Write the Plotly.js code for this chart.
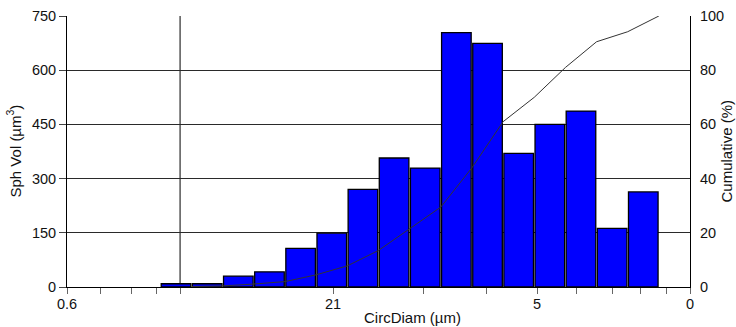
<!DOCTYPE html>
<html>
<head>
<meta charset="utf-8">
<script src="https://cdn.plot.ly/plotly-3.0.1.min.js"></script>
<style>html,body{margin:0;padding:0;background:#fff;}#chart{width:736px;height:327px;}</style>
</head>
<body>
<div id="chart"></div>
<script>
// bin index of each size class (left to right)
var bins = [0,1,2,3,4,5,6,7,8,9,10,11,12,13,14,15];
// spherical volume per bin (µm³)
var sphVol = [9,9,30,42,107,149,270,357,329,704,674,370,450,487,162,263];
// cumulative percentage at the upper edge of each bin
var cumulative = [0.2,0.4,1.1,2.0,4.5,7.8,13.5,21.5,29.5,44,61,70,81,90.5,94.2,100];
// x tick labels as printed
var xTickLabels = ['0.6','21','5','0'];
var xTickPos = [-3.5,5.04,11.59,16.5];
var xMinorPos = [-2.41,-1.44,-0.64,0.13,7.93,9.98,12.87,14.0,14.9,15.76];

var font = 'Liberation Sans, Arial, sans-serif';
var edges = bins.map(function(b){return b+0.5;});

var bars = {
  type:'bar', x:bins, y:sphVol,
  marker:{color:'#0000ff', line:{color:'#000', width:1.3}},
  width:0.95, hoverinfo:'skip'
};
var cum = {
  type:'scatter', mode:'lines', x:edges, y:cumulative, yaxis:'y2',
  line:{color:'#333', width:1}, hoverinfo:'skip'
};

var layout = {
  width:736, height:327,
  margin:{l:67, r:46, t:16, b:40},
  paper_bgcolor:'#fff', plot_bgcolor:'#fff',
  showlegend:false,
  font:{family:font, size:14.5, color:'#111'},
  xaxis:{
    range:[-3.5,16.5], tickmode:'array', tickvals:xTickPos, ticktext:xTickLabels,
    ticks:'outside', ticklen:6, tickcolor:'#666', tickwidth:1,
    ticklabelstandoff:-2,
    showgrid:false, zeroline:false, showline:true, linecolor:'#000', linewidth:1,
    tickfont:{size:14.5},
    minor:{tickmode:'array', tickvals:xMinorPos, ticks:'outside', ticklen:6, tickcolor:'#666', tickwidth:1, showgrid:false}
  },
  yaxis:{
    range:[0,750], tickmode:'linear', tick0:0, dtick:150,
    ticks:'outside', ticklen:7, tickcolor:'#444',
    showgrid:true, gridcolor:'#2a2a2a', gridwidth:1,
    zeroline:false, showline:true, linecolor:'#000', linewidth:1,
    tickfont:{size:14.5}
  },
  yaxis2:{
    overlaying:'y', side:'right', range:[0,100], tickmode:'linear', tick0:0, dtick:20,
    showgrid:false, zeroline:false, showline:true, linecolor:'#000', linewidth:1,
    ticks:'outside', ticklen:6, tickcolor:'rgba(0,0,0,0)', tickfont:{size:14.5}
  },
  shapes:[{type:'line', xref:'x', yref:'paper', x0:0.13, x1:0.13, y0:0, y1:1, line:{color:'#000', width:1}, layer:'below'}],
  annotations:[
    {text:'CircDiam (µm)', xref:'paper', yref:'paper', x:(412-67)/623, y:-30/271, xanchor:'center', yanchor:'middle', showarrow:false, font:{size:15}},
    {text:'Sph Vol (µm<sup>3</sup>)', xref:'paper', yref:'paper', x:-53/623, y:0.5, xanchor:'center', yanchor:'middle', textangle:-90, showarrow:false, font:{size:15}},
    {text:'Cumulative (%)', xref:'paper', yref:'paper', x:(726-67)/623, y:0.5, xanchor:'center', yanchor:'middle', textangle:-90, showarrow:false, font:{size:15}}
  ],
  bargap:0.05
};
Plotly.newPlot('chart',[bars,cum],layout,{staticPlot:true, displayModeBar:false});
</script>
</body>
</html>
